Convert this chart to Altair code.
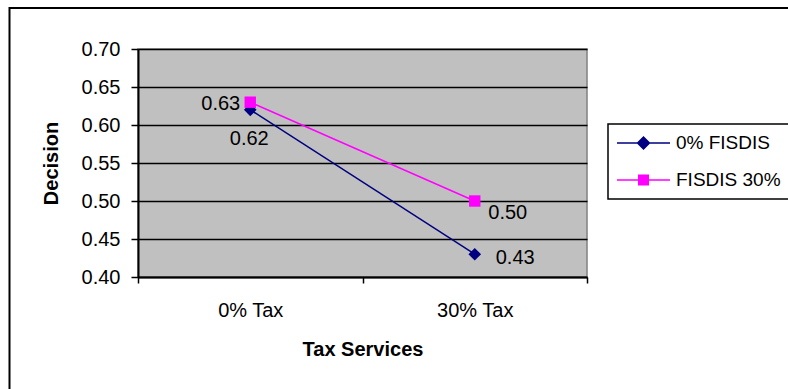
import altair as alt
import pandas as pd

# Chart values
categories = ["0% Tax", "30% Tax"]
series_names = ["0% FISDIS", "FISDIS 30%"]
fisdis_0 = [0.62, 0.43]
fisdis_30 = [0.63, 0.50]
y_ticks = [0.40, 0.45, 0.50, 0.55, 0.60, 0.65, 0.70]

NAVY = "#000080"
MAGENTA = "#FF00FF"
FONT = "Liberation Sans"

rows = []
for name, vals in zip(series_names, [fisdis_0, fisdis_30]):
    for cat, v in zip(categories, vals):
        rows.append({"category": cat, "series": name, "value": v})
df = pd.DataFrame(rows)

x_enc = alt.X(
    "category:N",
    sort=categories,
    scale=alt.Scale(type="band", domain=categories, paddingInner=0, paddingOuter=0),
    axis=alt.Axis(
        title="Tax Services",
        labelAngle=0,
        tickBand="extent",
        tickSize=6,
        labelPadding=17,
        titlePadding=19,
        domainWidth=2,
        grid=False,
    ),
)
y_enc = alt.Y(
    "value:Q",
    scale=alt.Scale(domain=[0.40, 0.70], nice=False, zero=False),
    axis=alt.Axis(
        title="Decision",
        values=y_ticks,
        format=".2f",
        tickSize=7,
        labelPadding=11,
        titlePadding=20,
        domainWidth=2,
        grid=True,
        gridColor="black",
        gridWidth=1.5,
    ),
)

base = alt.Chart(df)


def series_layers(name, color, shape, size):
    sub = base.transform_filter(alt.datum.series == name)
    line = sub.mark_line(color=color, strokeWidth=1.5).encode(x=x_enc, y=y_enc)
    pts = sub.mark_point(filled=True, shape=shape, size=size, color=color, opacity=1).encode(
        x=x_enc, y=y_enc
    )
    return [line, pts]


def value_label(name, cat, align, dx, dy):
    return (
        base.transform_filter((alt.datum.series == name) & (alt.datum.category == cat))
        .mark_text(align=align, baseline="middle", dx=dx, dy=dy, font=FONT, fontSize=20, color="black")
        .encode(x=x_enc, y=y_enc, text=alt.Text("value:Q", format=".2f"))
    )


# Legend symbols: a short line with the series marker in its middle
legend_paths = [
    "M-1,-0.07H4.3V0.07H-1Z M1.65,-0.7L2.35,0L1.65,0.7L0.95,0Z",
    "M-1,-0.07H4.3V0.07H-1Z M1.1,-0.55H2.2V0.55H1.1Z",
]
legend_cfg = alt.Legend(
    title=None,
    orient="none",
    legendX=470,
    legendY=75,
    symbolSize=400,
    symbolStrokeWidth=0,
    labelOffset=39,
    labelFont=FONT,
    labelFontSize=19,
    labelColor="black",
    labelLimit=300,
    rowPadding=17,
    padding=9,
    strokeColor="black",
    fillColor="white",
)
legend_layer = (
    base.transform_filter(alt.datum.value < 0)
    .mark_point(filled=True, opacity=1)
    .encode(
        x=x_enc,
        y=y_enc,
        shape=alt.Shape("series:N", scale=alt.Scale(domain=series_names, range=legend_paths), legend=legend_cfg),
        color=alt.Color("series:N", scale=alt.Scale(domain=series_names, range=[NAVY, MAGENTA]), legend=legend_cfg),
    )
)

# Outer chart frame
frame = (
    alt.Chart(pd.DataFrame({"frame": [0]}))
    .mark_rect(fillOpacity=0, stroke="black", strokeWidth=2)
    .encode(x=alt.value(-128.5), x2=alt.value(700), y=alt.value(-41), y2=alt.value(400))
)

layers = [frame]
layers += series_layers(series_names[0], NAVY, "diamond", 160)
layers += series_layers(series_names[1], MAGENTA, "square", 130)
layers += [
    value_label(series_names[1], categories[0], "right", -10, 2),
    value_label(series_names[0], categories[0], "center", -1, 29),
    value_label(series_names[1], categories[1], "center", 33, 12),
    value_label(series_names[0], categories[1], "left", 21, 4),
    legend_layer,
]

chart = (
    alt.layer(*layers)
    .properties(
        width=449,
        height=228,
        autosize=alt.AutoSizeParams(type="none"),
        padding={"left": 138, "top": 49, "right": 201, "bottom": 112},
        background="white",
    )
    .configure_view(fill="#C0C0C0", stroke="#808080", strokeWidth=1.5)
    .configure_legend(strokeWidth=1.5)
    .configure_axis(
        domainColor="black",
        tickColor="black",
        tickWidth=1.5,
        labelColor="black",
        labelFont=FONT,
        labelFontSize=20,
        titleColor="black",
        titleFont=FONT,
        titleFontSize=20,
        titleFontWeight="bold",
    )
)

chart.save("out.html", embed_options={"renderer": "svg", "actions": False})
